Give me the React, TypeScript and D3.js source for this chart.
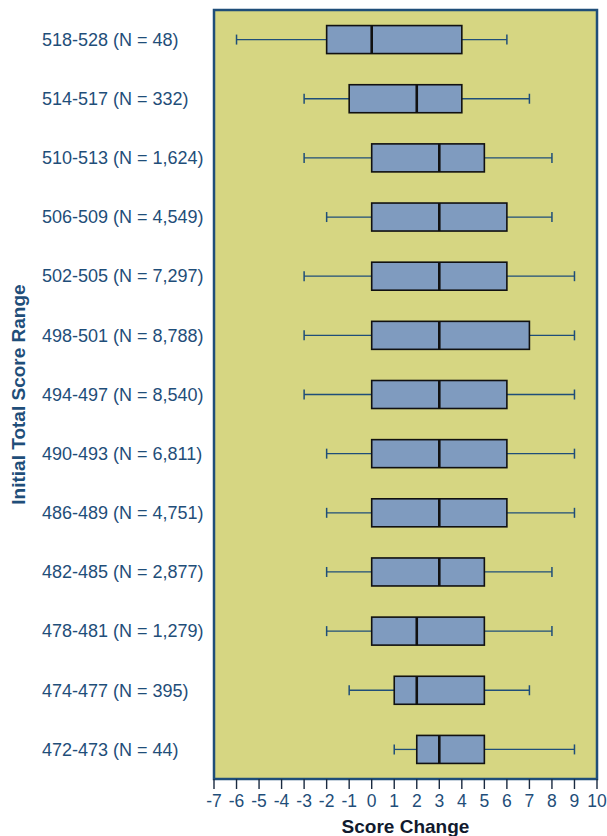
import React from "react";
import * as d3 from "d3";

// Score-range groups, top to bottom
const categories = [
  "518-528 (N = 48)",
  "514-517 (N = 332)",
  "510-513 (N = 1,624)",
  "506-509 (N = 4,549)",
  "502-505 (N = 7,297)",
  "498-501 (N = 8,788)",
  "494-497 (N = 8,540)",
  "490-493 (N = 6,811)",
  "486-489 (N = 4,751)",
  "482-485 (N = 2,877)",
  "478-481 (N = 1,279)",
  "474-477 (N = 395)",
  "472-473 (N = 44)",
];

const whiskerLow = [-6, -3, -3, -2, -3, -3, -3, -2, -2, -2, -2, -1, 1];
const q1 = [-2, -1, 0, 0, 0, 0, 0, 0, 0, 0, 0, 1, 2];
const median = [0, 2, 3, 3, 3, 3, 3, 3, 3, 3, 2, 2, 3];
const q3 = [4, 4, 5, 6, 6, 7, 6, 6, 6, 5, 5, 5, 5];
const whiskerHigh = [6, 7, 8, 8, 9, 9, 9, 9, 9, 8, 8, 7, 9];

const xTicks = d3.range(-7, 11);

const W = 607;
const H = 836;
const margin = { left: 214, right: 10, top: 10, bottom: 57 };

const navy = "#1f4e79";
const font = "Arial, 'Liberation Sans', Helvetica, sans-serif";

export default function App() {
  const x = d3
    .scaleLinear()
    .domain([-7, 10])
    .range([margin.left, W - margin.right]);
  const y = d3
    .scaleBand<string>()
    .domain(categories)
    .range([margin.top, H - margin.bottom]);

  const boxH = 28;
  const capH = 10;
  const plotBottom = H - margin.bottom;

  return (
    <svg
      width={W}
      height={H}
      style={{ position: "absolute", left: 0, top: 0 }}
      fontFamily={font}
    >
      <rect
        x={margin.left}
        y={margin.top}
        width={W - margin.left - margin.right}
        height={plotBottom - margin.top}
        fill="#d6d682"
      />

      {categories.map((c, i) => {
        const cy = (y(c) ?? 0) + y.bandwidth() / 2;
        return (
          <g key={c}>
            <line
              x1={x(whiskerLow[i])}
              x2={x(q1[i])}
              y1={cy}
              y2={cy}
              stroke={navy}
              strokeWidth={1.3}
            />
            <line
              x1={x(q3[i])}
              x2={x(whiskerHigh[i])}
              y1={cy}
              y2={cy}
              stroke={navy}
              strokeWidth={1.3}
            />
            <line
              x1={x(whiskerLow[i])}
              x2={x(whiskerLow[i])}
              y1={cy - capH / 2}
              y2={cy + capH / 2}
              stroke={navy}
              strokeWidth={1.5}
            />
            <line
              x1={x(whiskerHigh[i])}
              x2={x(whiskerHigh[i])}
              y1={cy - capH / 2}
              y2={cy + capH / 2}
              stroke={navy}
              strokeWidth={1.5}
            />
            <rect
              x={x(q1[i])}
              y={cy - boxH / 2}
              width={x(q3[i]) - x(q1[i])}
              height={boxH}
              fill="#7f9bbf"
              stroke="#111"
              strokeWidth={1.6}
            />
            <line
              x1={x(median[i])}
              x2={x(median[i])}
              y1={cy - boxH / 2}
              y2={cy + boxH / 2}
              stroke="#111"
              strokeWidth={2.6}
            />
            <text
              x={42}
              y={cy}
              dy="0.35em"
              fontSize={18}
              fill={navy}
            >
              {c}
            </text>
          </g>
        );
      })}

      <rect
        x={margin.left}
        y={margin.top}
        width={W - margin.left - margin.right}
        height={plotBottom - margin.top}
        fill="none"
        stroke={navy}
        strokeWidth={2.5}
      />

      {xTicks.map((t) => (
        <g key={t}>
          <line
            x1={x(t)}
            x2={x(t)}
            y1={plotBottom}
            y2={plotBottom + 10}
            stroke="#1a2a40"
            strokeWidth={1.4}
          />
          <text
            x={x(t)}
            y={plotBottom + 28}
            textAnchor="middle"
            fontSize={17.5}
            fill={navy}
          >
            {t}
          </text>
        </g>
      ))}

      <text
        x={(margin.left + W - margin.right) / 2}
        y={833}
        textAnchor="middle"
        fontSize={19}
        fontWeight="bold"
        fill="#111a2e"
      >
        Score Change
      </text>

      <text
        transform={`translate(25, ${(margin.top + plotBottom) / 2}) rotate(-90)`}
        textAnchor="middle"
        fontSize={19}
        fontWeight="bold"
        fill={navy}
      >
        Initial Total Score Range
      </text>
    </svg>
  );
}
